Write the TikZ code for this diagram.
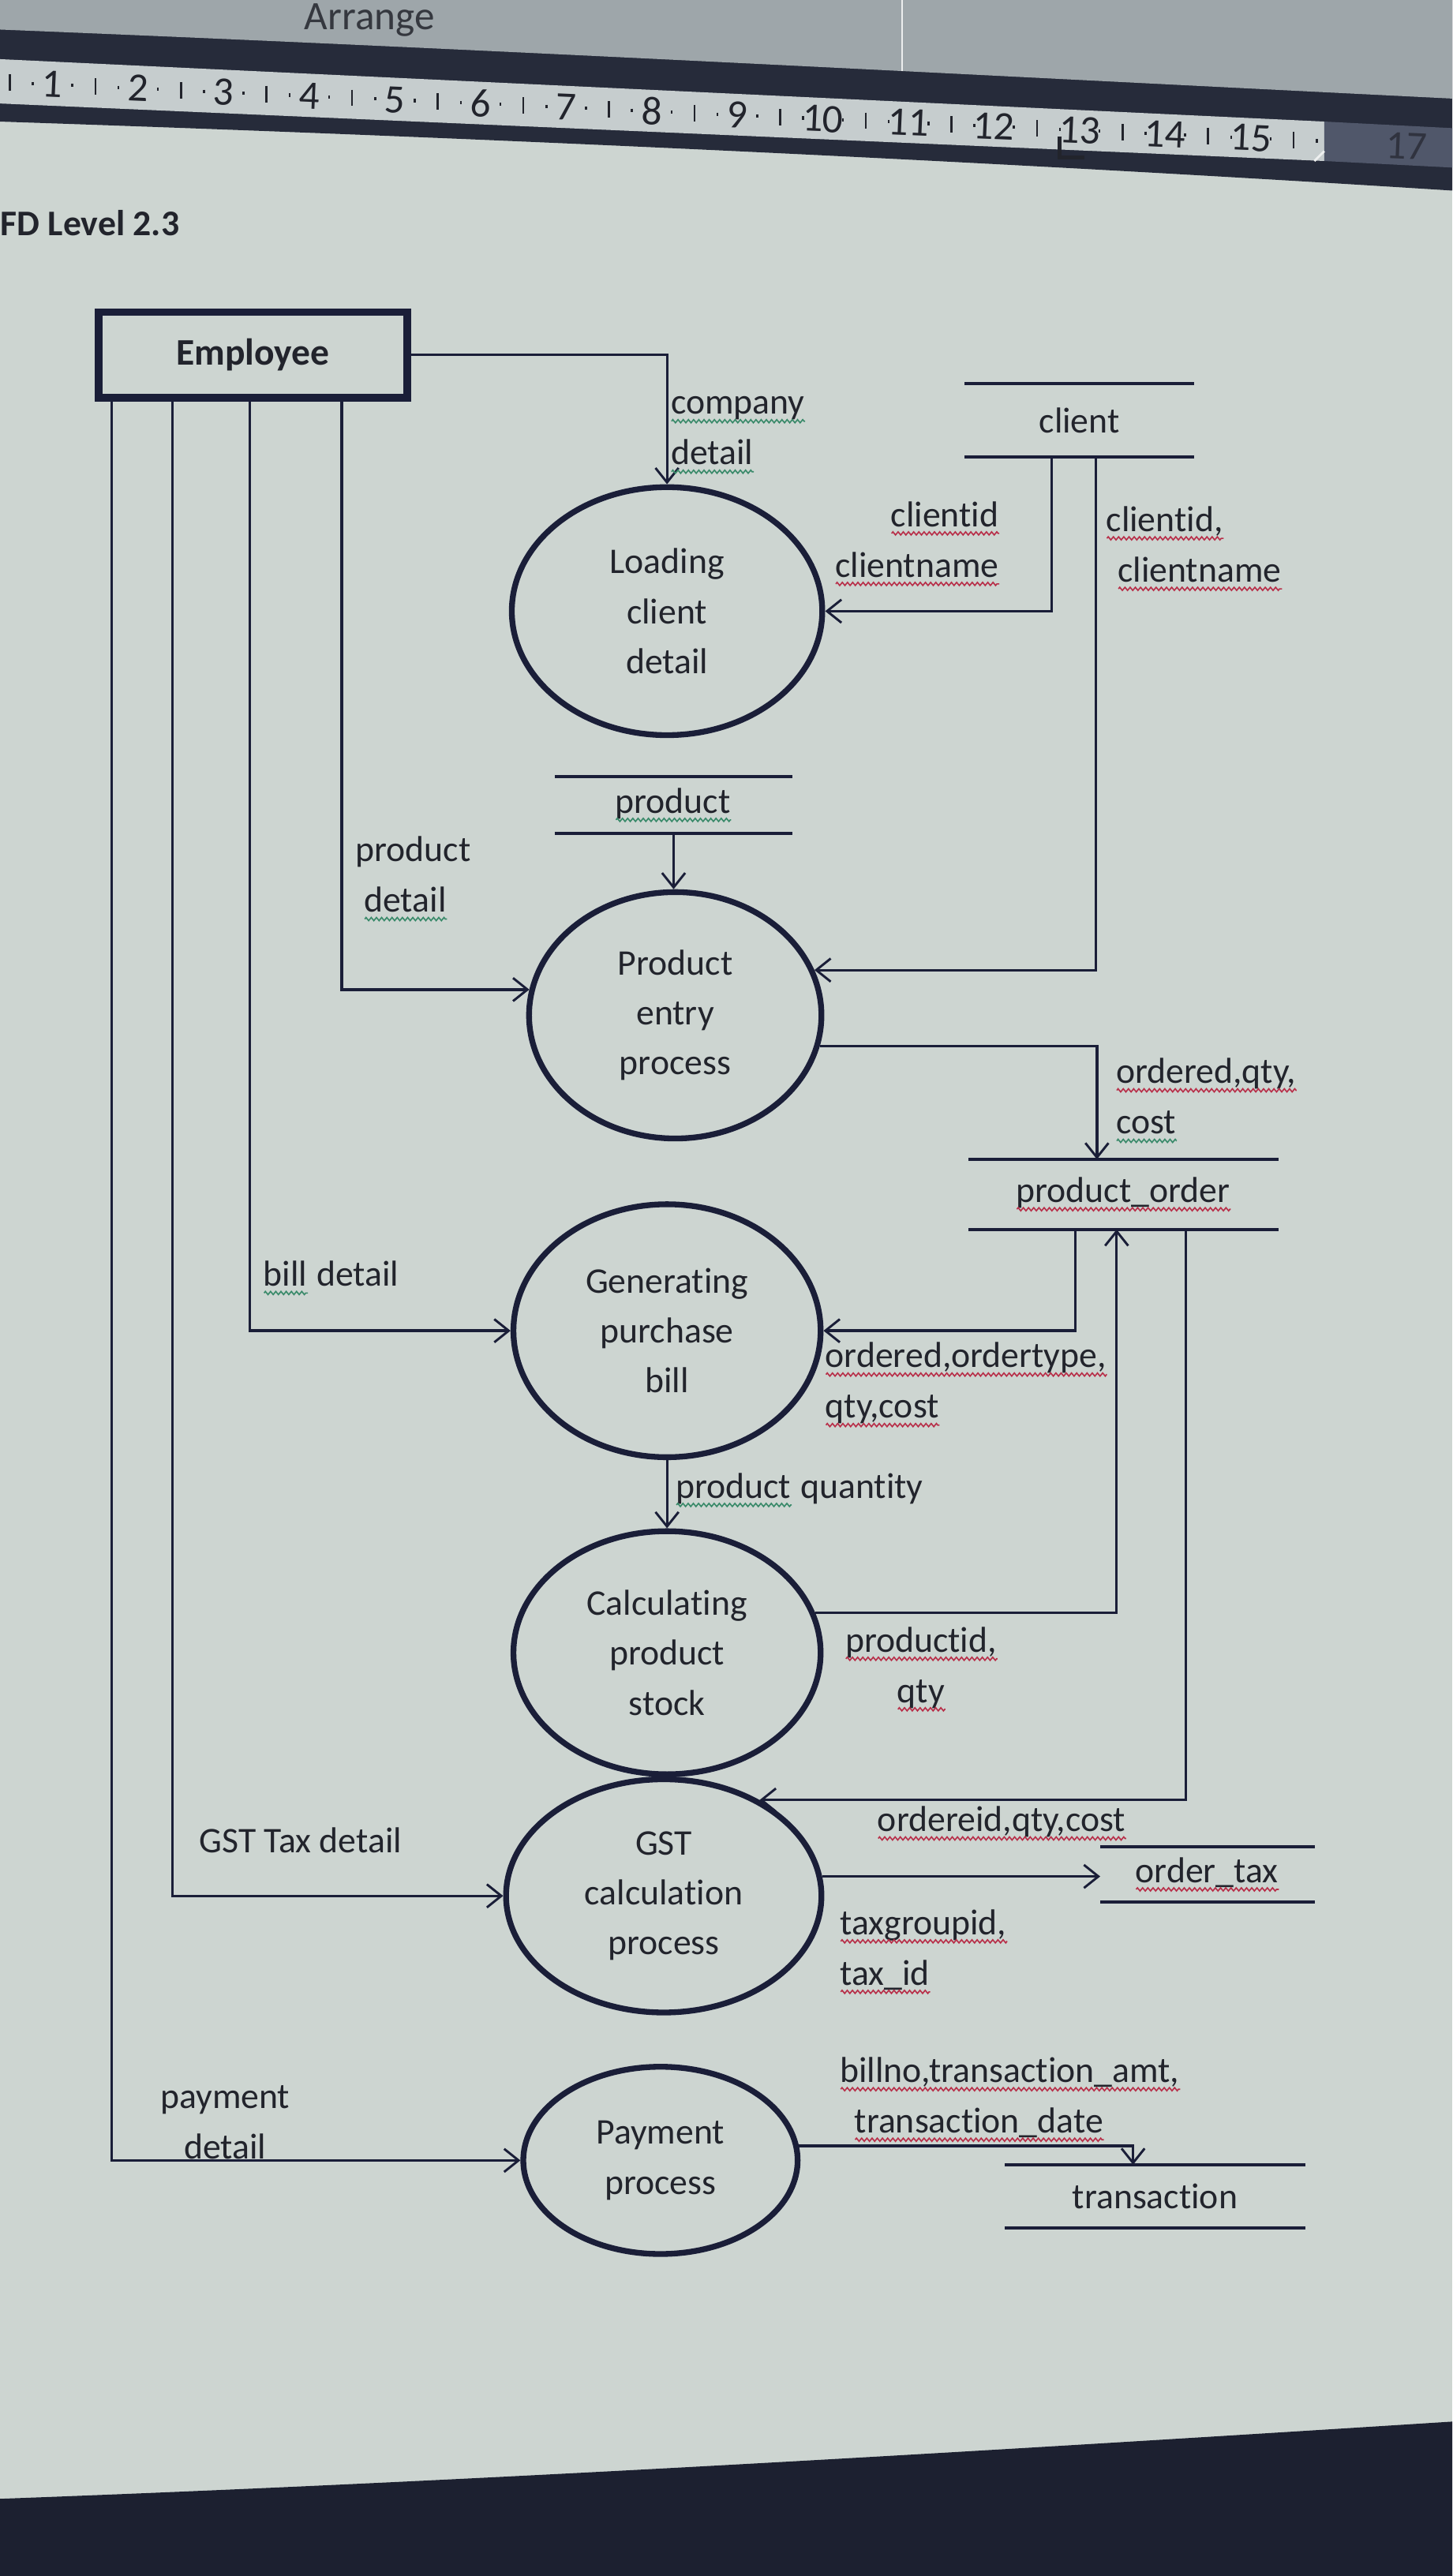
\documentclass[tikz,border=0pt]{standalone}
\usepackage{fontspec}
\setmainfont{Carlito}[Ligatures=CommonOff]
\usetikzlibrary{arrows.meta,calc,shapes.geometric,decorations.pathmorphing}

\definecolor{pagebg}{HTML}{CDD5D1}
\definecolor{chrome}{HTML}{9EA6AA}
\definecolor{bezel}{HTML}{262B3A}
\definecolor{bezeldark}{HTML}{1C2030}
\definecolor{rulerbg}{HTML}{C6CDCE}
\definecolor{rulerend}{HTML}{50576A}
\definecolor{ink}{HTML}{1A1E38}
\definecolor{txt}{HTML}{22242C}
\definecolor{spellred}{HTML}{B8304A}
\definecolor{spellgrn}{HTML}{3A8A6A}

% spell-check style wavy underlines
\newsavebox\wavebox
\newcommand\wavy[2]{\sbox\wavebox{#2}\leavevmode\rlap{\usebox\wavebox}%
  \tikz[baseline=0pt,x=1pt,y=1pt]\draw[#1,line width=0.45pt,decorate,
    decoration={zigzag,amplitude=0.55pt,segment length=1.8pt}] (0,-2.4) -- (\wd\wavebox,-2.4);}
\newcommand\redwave[1]{\wavy{spellred}{#1}}
\newcommand\grnwave[1]{\wavy{spellgrn}{#1}}

\newcommand\proctext{\fontsize{12.5}{17.3}\selectfont}
\newcommand\labeltext{\fontsize{12.5}{17.5}\selectfont}

\begin{document}
\begin{tikzpicture}[x=0.02cm,y=-0.02cm,
  proc/.style={ellipse,draw=ink,line width=2pt,inner sep=0pt,align=center,font=\proctext,text=txt},
  entity/.style={rectangle,draw=ink,line width=2.6pt,inner sep=0pt,font=\bfseries\fontsize{13}{15}\selectfont,text=txt},
  store/.style={rectangle,inner sep=0pt,font=\labeltext,text=txt},
  storeline/.style={draw=ink,line width=1.1pt},
  flow/.style={draw=ink,line width=0.9pt,-{Straight Barb[length=5pt,width=8pt,line width=0.8pt]}},
  lbl/.style={font=\labeltext,text=txt,inner sep=0pt,align=left},
  rulernum/.style={font=\fontsize{14}{15}\selectfont,text=txt,rotate=-2.5,inner sep=0pt},
  rulertick/.style={draw=txt,line width=0.7pt},
]
\useasboundingbox (0,0) rectangle (884,1568);

% screen background, toolbar and ruler
\fill[pagebg] (0,0) rectangle (884,1568);
\fill[bezel] (0,0) -- (884,0) -- (884,116) .. controls (600,98) and (300,84) .. (0,74) -- cycle;
\fill[chrome] (0,0) -- (884,0) -- (884,60) .. controls (600,46) and (300,30) .. (0,18) -- cycle;
\draw[white!80!chrome,line width=0.6pt] (549,0) -- (549,43);
\fill[rulerbg] (0,36) -- (806,74) -- (806,98) -- (0,63) -- cycle;
\fill[rulerend] (806,74) -- (884,78) -- (884,102) -- (806,98) -- cycle;
\draw[white!70!rulerbg,line width=0.8pt] (806,92) -- (800,98);
\draw[txt,line width=1.4pt] (645,83) -- (645,96) -- (660,96);
\fill[bezeldark] (0,1521) .. controls (300,1510) and (600,1492) .. (884,1474) -- (884,1568) -- (0,1568) -- cycle;

\node[font=\fontsize{14}{16}\selectfont,text=txt!85!chrome,inner sep=0pt] (arrange) at (225,12) {Arrange};

\foreach \n in {1,...,15} {
  \pgfmathsetmacro\rx{32+52.1*(\n-1)}
  \node[rulernum] (rn\n) at (\rx,{50+0.0446*\rx}) {\n};
}
\node[rulernum,text=txt!70!rulerend] (rn17) at (856,89) {17};
\foreach \k in {0,...,15} {
  \pgfmathsetmacro\tx{32+52.1*(\k-0.5)}
  \draw[rulertick] (\tx,{45+0.0446*\tx}) -- (\tx,{55+0.0446*\tx});
  \pgfmathsetmacro\qa{\tx-14}
  \pgfmathsetmacro\qb{\tx+14}
  \draw[rulertick] (\qa,{49+0.0446*\qa}) -- (\qa,{51+0.0446*\qa});
  \draw[rulertick] (\qb,{49+0.0446*\qb}) -- (\qb,{51+0.0446*\qb});
}

\node[font=\bfseries\fontsize{12.5}{14}\selectfont,text=txt,anchor=west,inner sep=0pt] (title) at (0,136) {FD Level 2.3};

% external entity
\node[entity,minimum width=3.76cm,minimum height=1.04cm] (emp) at (154,216) {Employee};

% processes
\node[proc,minimum width=3.78cm,minimum height=3.02cm] (load)  at (406,372)  {Loading\\client\\detail};
\node[proc,minimum width=3.56cm,minimum height=3.0cm]  (prod)  at (411,618)  {Product\\entry\\process};
\node[proc,minimum width=3.74cm,minimum height=3.08cm] (bill)  at (406,810)  {Generating\\purchase\\bill};
\node[proc,minimum width=3.74cm,minimum height=2.96cm] (stock) at (406,1006) {Calculating\\product\\stock};
\node[proc,minimum width=3.84cm,minimum height=2.84cm] (gst)   at (404,1154) {GST\\calculation\\process};
\node[proc,minimum width=3.34cm,minimum height=2.28cm] (pay)   at (402,1315) {Payment\\process};

% data stores
\node[store,minimum width=2.78cm,minimum height=0.88cm] (client) at (657,256)  {client};
\node[store,minimum width=2.88cm,minimum height=0.68cm] (pstore) at (410,490)  {\grnwave{product}};
\node[store,minimum width=3.76cm,minimum height=0.84cm] (po)     at (684,727)  {\redwave{product\_order}};
\node[store,minimum width=2.60cm,minimum height=0.66cm] (otax)   at (735,1141) {\redwave{order\_tax}};
\node[store,minimum width=3.64cm,minimum height=0.76cm] (trans)  at (703,1337) {transaction};
\foreach \s in {client,pstore,po,otax,trans} {
  \draw[storeline] (\s.north west) -- (\s.north east) (\s.south west) -- (\s.south east);
}

% data flows
\draw[flow] (emp.east) -| (load.north);
\draw[flow] ($(client.south west)+(53,0)$) |- (load.east);
\draw[flow] ($(client.south west)+(80,0)$) |- (prod.18);
\draw[flow] (pstore.south) -- (pstore.south |- prod.north);
\draw[flow] ($(emp.south)+(54,0)$) |- (prod.170);
\draw[flow] (prod.348) -| ($(po.north west)+(78,0)$);
\draw[flow] ($(emp.south)+(-2,0)$) |- (bill.west);
\draw[flow] ($(po.south west)+(65,0)$) |- (bill.east);
\draw[flow] (bill.south) -- (stock.north);
\draw[flow] (stock.15) -| ($(po.south west)+(90,0)$);
\draw[flow] ($(po.south west)+(132,0)$) |- (gst.45);
\draw[flow] ($(emp.south)+(-49,0)$) |- (gst.west);
\draw[flow] (gst.7) -- (gst.7 -| otax.west);
\draw[flow] ($(emp.south)+(-86,0)$) |- (pay.west);
\draw[flow] (pay.6) -| ($(trans.north west)+(78,0)$);

% flow labels
\node[lbl,anchor=west] (l1) at (408,265) {\grnwave{company}\\\grnwave{detail}};
\node[lbl,anchor=east,align=right] (l2) at (609,331) {\redwave{clientid}\\\redwave{clientname}};
\node[lbl,anchor=west] (l3) at (673,334) {\redwave{clientid,}\\\hspace*{4pt}\redwave{clientname}};
\node[lbl,anchor=west] (l4) at (216,535) {product\\\hspace*{3pt}\grnwave{detail}};
\node[lbl,anchor=west] (l5) at (679,670) {\redwave{ordered,qty,}\\\grnwave{cost}};
\node[lbl,anchor=west] (l6) at (160,778) {\grnwave{bill} detail};
\node[lbl,anchor=west] (l7) at (502,843) {\redwave{ordered,ordertype,}\\\redwave{qty,cost}};
\node[lbl,anchor=west] (l8) at (411,907) {\grnwave{product} quantity};
\node[lbl,align=center] (l9) at (561,1016) {\redwave{productid,}\\\redwave{qty}};
\node[lbl] (l10) at (610,1110) {\redwave{ordereid,qty,cost}};
\node[lbl,anchor=west] (l11) at (121,1120) {GST Tax detail};
\node[lbl,anchor=west] (l12) at (511,1188) {\redwave{taxgroupid,}\\\redwave{tax\_id}};
\node[lbl,align=center] (l13) at (137,1292) {payment\\detail};
\node[lbl,anchor=west] (l14) at (511,1278) {\redwave{billno,transaction\_amt,}\\\hspace*{5pt}\redwave{transaction\_date}};
\end{tikzpicture}
\end{document}
